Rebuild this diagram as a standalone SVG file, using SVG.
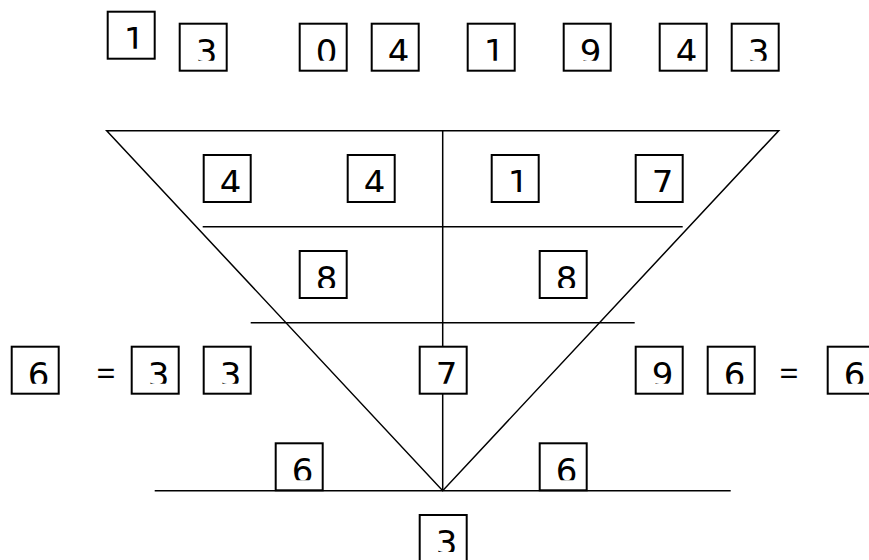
<svg xmlns="http://www.w3.org/2000/svg" width="869" height="560" viewBox="0 0 869 560">
<style>
.box{fill:#fff;stroke:#000;stroke-width:2}
.ln{fill:none;stroke:#000;stroke-width:1.5}
text{font-family:"DejaVu Sans","Open Sans",sans-serif;font-size:34px;text-anchor:middle;fill:#000}
</style>
<rect width="869" height="560" fill="#fff"/>
<g id="connectors">
<path class="ln" d="M106.7 130.7H778.7L442.7 490.7Z"/>
<path class="ln" d="M442.7 130.7V490.7"/>
<path class="ln" d="M202.7 226.7H682.7"/>
<path class="ln" d="M250.7 322.7H634.7"/>
<path class="ln" d="M154.7 490.7H730.7"/>
</g>
<g id="t1"><rect class="box" x="107.7" y="11.7" width="47" height="47"/><svg x="107.7" y="11.7" width="47" height="37"><text x="27" y="40">1</text></svg></g>
<g id="t2"><rect class="box" x="179.7" y="23.7" width="47" height="47"/><svg x="179.7" y="23.7" width="47" height="37"><text x="27" y="40">3</text></svg></g>
<g id="t3"><rect class="box" x="299.7" y="23.7" width="47" height="47"/><svg x="299.7" y="23.7" width="47" height="37"><text x="27" y="40">0</text></svg></g>
<g id="t4"><rect class="box" x="371.7" y="23.7" width="47" height="47"/><svg x="371.7" y="23.7" width="47" height="37"><text x="27" y="40">4</text></svg></g>
<g id="t5"><rect class="box" x="467.7" y="23.7" width="47" height="47"/><svg x="467.7" y="23.7" width="47" height="37"><text x="27" y="40">1</text></svg></g>
<g id="t6"><rect class="box" x="563.7" y="23.7" width="47" height="47"/><svg x="563.7" y="23.7" width="47" height="37"><text x="27" y="40">9</text></svg></g>
<g id="t7"><rect class="box" x="659.7" y="23.7" width="47" height="47"/><svg x="659.7" y="23.7" width="47" height="37"><text x="27" y="40">4</text></svg></g>
<g id="t8"><rect class="box" x="731.7" y="23.7" width="47" height="47"/><svg x="731.7" y="23.7" width="47" height="37"><text x="27" y="40">3</text></svg></g>
<g id="a1"><rect class="box" x="203.7" y="155" width="47" height="47"/><svg x="203.7" y="155" width="47" height="37"><text x="27" y="40">4</text></svg></g>
<g id="a2"><rect class="box" x="347.7" y="155" width="47" height="47"/><svg x="347.7" y="155" width="47" height="37"><text x="27" y="40">4</text></svg></g>
<g id="a3"><rect class="box" x="491.7" y="155" width="47" height="47"/><svg x="491.7" y="155" width="47" height="37"><text x="27" y="40">1</text></svg></g>
<g id="a4"><rect class="box" x="635.7" y="155" width="47" height="47"/><svg x="635.7" y="155" width="47" height="37"><text x="27" y="40">7</text></svg></g>
<g id="b1"><rect class="box" x="299.7" y="251" width="47" height="47"/><svg x="299.7" y="251" width="47" height="37"><text x="27" y="40">8</text></svg></g>
<g id="b2"><rect class="box" x="539.7" y="251" width="47" height="47"/><svg x="539.7" y="251" width="47" height="37"><text x="27" y="40">8</text></svg></g>
<g id="c1"><rect class="box" x="11.7" y="346.7" width="47" height="47"/><svg x="11.7" y="346.7" width="47" height="37"><text x="27" y="40">6</text></svg></g>
<g id="eq1"><text x="106" y="386" style="font-family:'Open Sans',sans-serif">=</text></g>
<g id="c2"><rect class="box" x="131.7" y="346.7" width="47" height="47"/><svg x="131.7" y="346.7" width="47" height="37"><text x="27" y="40">3</text></svg></g>
<g id="c3"><rect class="box" x="203.7" y="346.7" width="47" height="47"/><svg x="203.7" y="346.7" width="47" height="37"><text x="27" y="40">3</text></svg></g>
<g id="c4"><rect class="box" x="419.7" y="346.7" width="47" height="47"/><svg x="419.7" y="346.7" width="47" height="37"><text x="27" y="40">7</text></svg></g>
<g id="c5"><rect class="box" x="635.7" y="346.7" width="47" height="47"/><svg x="635.7" y="346.7" width="47" height="37"><text x="27" y="40">9</text></svg></g>
<g id="c6"><rect class="box" x="707.7" y="346.7" width="47" height="47"/><svg x="707.7" y="346.7" width="47" height="37"><text x="27" y="40">6</text></svg></g>
<g id="eq2"><text x="789" y="386" style="font-family:'Open Sans',sans-serif">=</text></g>
<g id="c7"><rect class="box" x="827.7" y="346.7" width="47" height="47"/><svg x="827.7" y="346.7" width="47" height="37"><text x="27" y="40">6</text></svg></g>
<g id="d1"><rect class="box" x="275.7" y="443.3" width="47" height="47"/><svg x="275.7" y="443.3" width="47" height="37"><text x="27" y="40">6</text></svg></g>
<g id="d2"><rect class="box" x="539.7" y="443.3" width="47" height="47"/><svg x="539.7" y="443.3" width="47" height="37"><text x="27" y="40">6</text></svg></g>
<g id="e1"><rect class="box" x="419.7" y="515" width="47" height="47"/><svg x="419.7" y="515" width="47" height="37"><text x="27" y="40">3</text></svg></g>
</svg>
